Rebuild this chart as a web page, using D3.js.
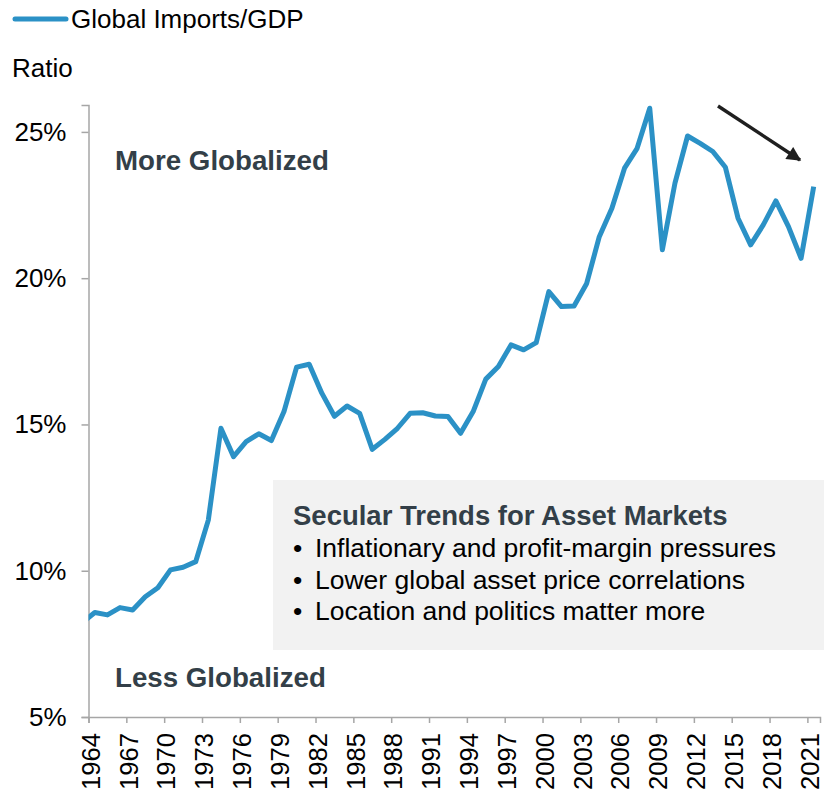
<!DOCTYPE html>
<html>
<head>
<meta charset="utf-8">
<script src="https://cdn.jsdelivr.net/npm/d3@7/dist/d3.min.js"></script>
<style>
  html, body { margin: 0; padding: 0; background: #fff; }
  svg { display: block; font-family: "Liberation Sans", Arial, Helvetica, sans-serif; }
</style>
</head>
<body>
<svg id="chart" width="836" height="801"></svg>
<script>
// Global imports as a share of world GDP, annual (%)
const years = d3.range(1963, 2022);
const importsToGdp = [
  8.22, 8.57, 8.49, 8.74, 8.66, 9.11, 9.42, 10.03, 10.12, 10.31, 11.73,
  14.87, 13.90, 14.41, 14.68, 14.45, 15.44, 16.96, 17.06, 16.07, 15.28,
  15.63, 15.38, 14.15, 14.49, 14.87, 15.38, 15.40, 15.29, 15.27, 14.70,
  15.44, 16.55, 16.98, 17.72, 17.55, 17.80, 19.54, 19.03, 19.05, 19.82,
  21.42, 22.39, 23.76, 24.44, 25.81, 20.97, 23.25, 24.86, 24.61, 24.33,
  23.79, 22.05, 21.14, 21.82, 22.64, 21.76, 20.68, 23.13
];
const yTicks = [5, 10, 15, 20, 25];
const xTicks = d3.range(1964, 2022, 3);
const seriesName = "Global Imports/GDP";
const boxTitle = "Secular Trends for Asset Markets";
const boxBullets = [
  "Inflationary and profit-margin pressures",
  "Lower global asset price correlations",
  "Location and politics matter more"
];

const svg = d3.select("#chart");
const blue = "#2b91c6";
const axisGrey = "#a6a6a6";
const slate = "#333f48";

const x = d3.scaleLinear().domain([1964, 2022]).range([88.5, 820]);
const y = d3.scaleLinear().domain([5, 25.92]).range([717, 105]);

svg.append("defs").append("clipPath").attr("id", "plot-clip")
  .append("rect").attr("x", x(1964)).attr("y", 0).attr("width", 760).attr("height", 801);

// Commentary box
svg.append("rect")
  .attr("x", 273).attr("y", 480).attr("width", 551).attr("height", 170)
  .attr("fill", "#f2f2f2");

svg.append("text")
  .attr("x", 293).attr("y", 525)
  .attr("font-size", 27.5).attr("font-weight", "bold").attr("fill", slate)
  .text(boxTitle);

boxBullets.forEach((t, i) => {
  const by = 557 + i * 31.7;
  svg.append("text").attr("x", 293).attr("y", by)
    .attr("font-size", 26.5).attr("fill", "#000").text("\u2022");
  svg.append("text").attr("x", 315).attr("y", by)
    .attr("font-size", 26.5).attr("fill", "#000").text(t);
});

// Y axis
const yAxis = svg.append("g").attr("transform", `translate(${x(1964)},0)`)
  .call(d3.axisLeft(y).tickValues(yTicks).tickSize(7).tickPadding(15)
    .tickFormat(d => d + "%"));
yAxis.select(".domain").attr("stroke", axisGrey).attr("stroke-width", 1.5);
yAxis.selectAll(".tick line").attr("stroke", axisGrey).attr("stroke-width", 1.5);
yAxis.selectAll(".tick text")
  .attr("font-size", 26).attr("fill", "#000")
  .attr("font-family", "Liberation Sans, Arial, sans-serif")
  .attr("dy", "0.32em");

// X axis
const xAxis = svg.append("g").attr("transform", `translate(0,${y(5)})`)
  .call(d3.axisBottom(x).tickValues(xTicks).tickSize(6).tickFormat(d3.format("d")));
xAxis.select(".domain").attr("stroke", axisGrey).attr("stroke-width", 1.5);
xAxis.selectAll(".tick line").attr("stroke", axisGrey).attr("stroke-width", 1.5);
xAxis.selectAll(".tick text")
  .attr("font-size", 25.6).attr("fill", "#000")
  .attr("font-family", "Liberation Sans, Arial, sans-serif")
  .attr("text-anchor", "end")
  .attr("transform", "rotate(-90)")
  .attr("x", -16).attr("y", 0).attr("dy", "0.42em");

// Series line (points sit mid-year)
const line = d3.line()
  .x((d, i) => x(years[i] + 0.5))
  .y(d => y(d));

svg.append("path")
  .datum(importsToGdp)
  .attr("clip-path", "url(#plot-clip)")
  .attr("fill", "none")
  .attr("stroke", blue)
  .attr("stroke-width", 5)
  .attr("stroke-linejoin", "round")
  .attr("d", line);

// Regime labels
svg.append("text").attr("x", 115).attr("y", 170)
  .attr("font-size", 27.7).attr("font-weight", "bold").attr("fill", slate)
  .text("More Globalized");
svg.append("text").attr("x", 115).attr("y", 687)
  .attr("font-size", 27.7).attr("font-weight", "bold").attr("fill", slate)
  .text("Less Globalized");

// Trend arrow
svg.select("defs").append("marker")
  .attr("id", "arrowhead")
  .attr("viewBox", "0 0 10 10").attr("refX", 9).attr("refY", 5)
  .attr("markerWidth", 4.6).attr("markerHeight", 4.2)
  .attr("markerUnits", "strokeWidth")
  .attr("orient", "auto")
  .append("path").attr("d", "M0,0 L10,5 L0,10 Z").attr("fill", "#1f1f1f");

svg.append("line")
  .attr("x1", 718).attr("y1", 106).attr("x2", 800).attr("y2", 160)
  .attr("stroke", "#1f1f1f").attr("stroke-width", 3.4)
  .attr("marker-end", "url(#arrowhead)");

// Legend and axis title
svg.append("line").attr("x1", 15).attr("x2", 66).attr("y1", 19).attr("y2", 19)
  .attr("stroke", blue).attr("stroke-width", 5).attr("stroke-linecap", "round");
svg.append("text").attr("x", 71).attr("y", 28)
  .attr("font-size", 26).attr("fill", "#000").text(seriesName);
svg.append("text").attr("x", 12).attr("y", 77)
  .attr("font-size", 26).attr("fill", "#000").text("Ratio");
</script>
</body>
</html>
